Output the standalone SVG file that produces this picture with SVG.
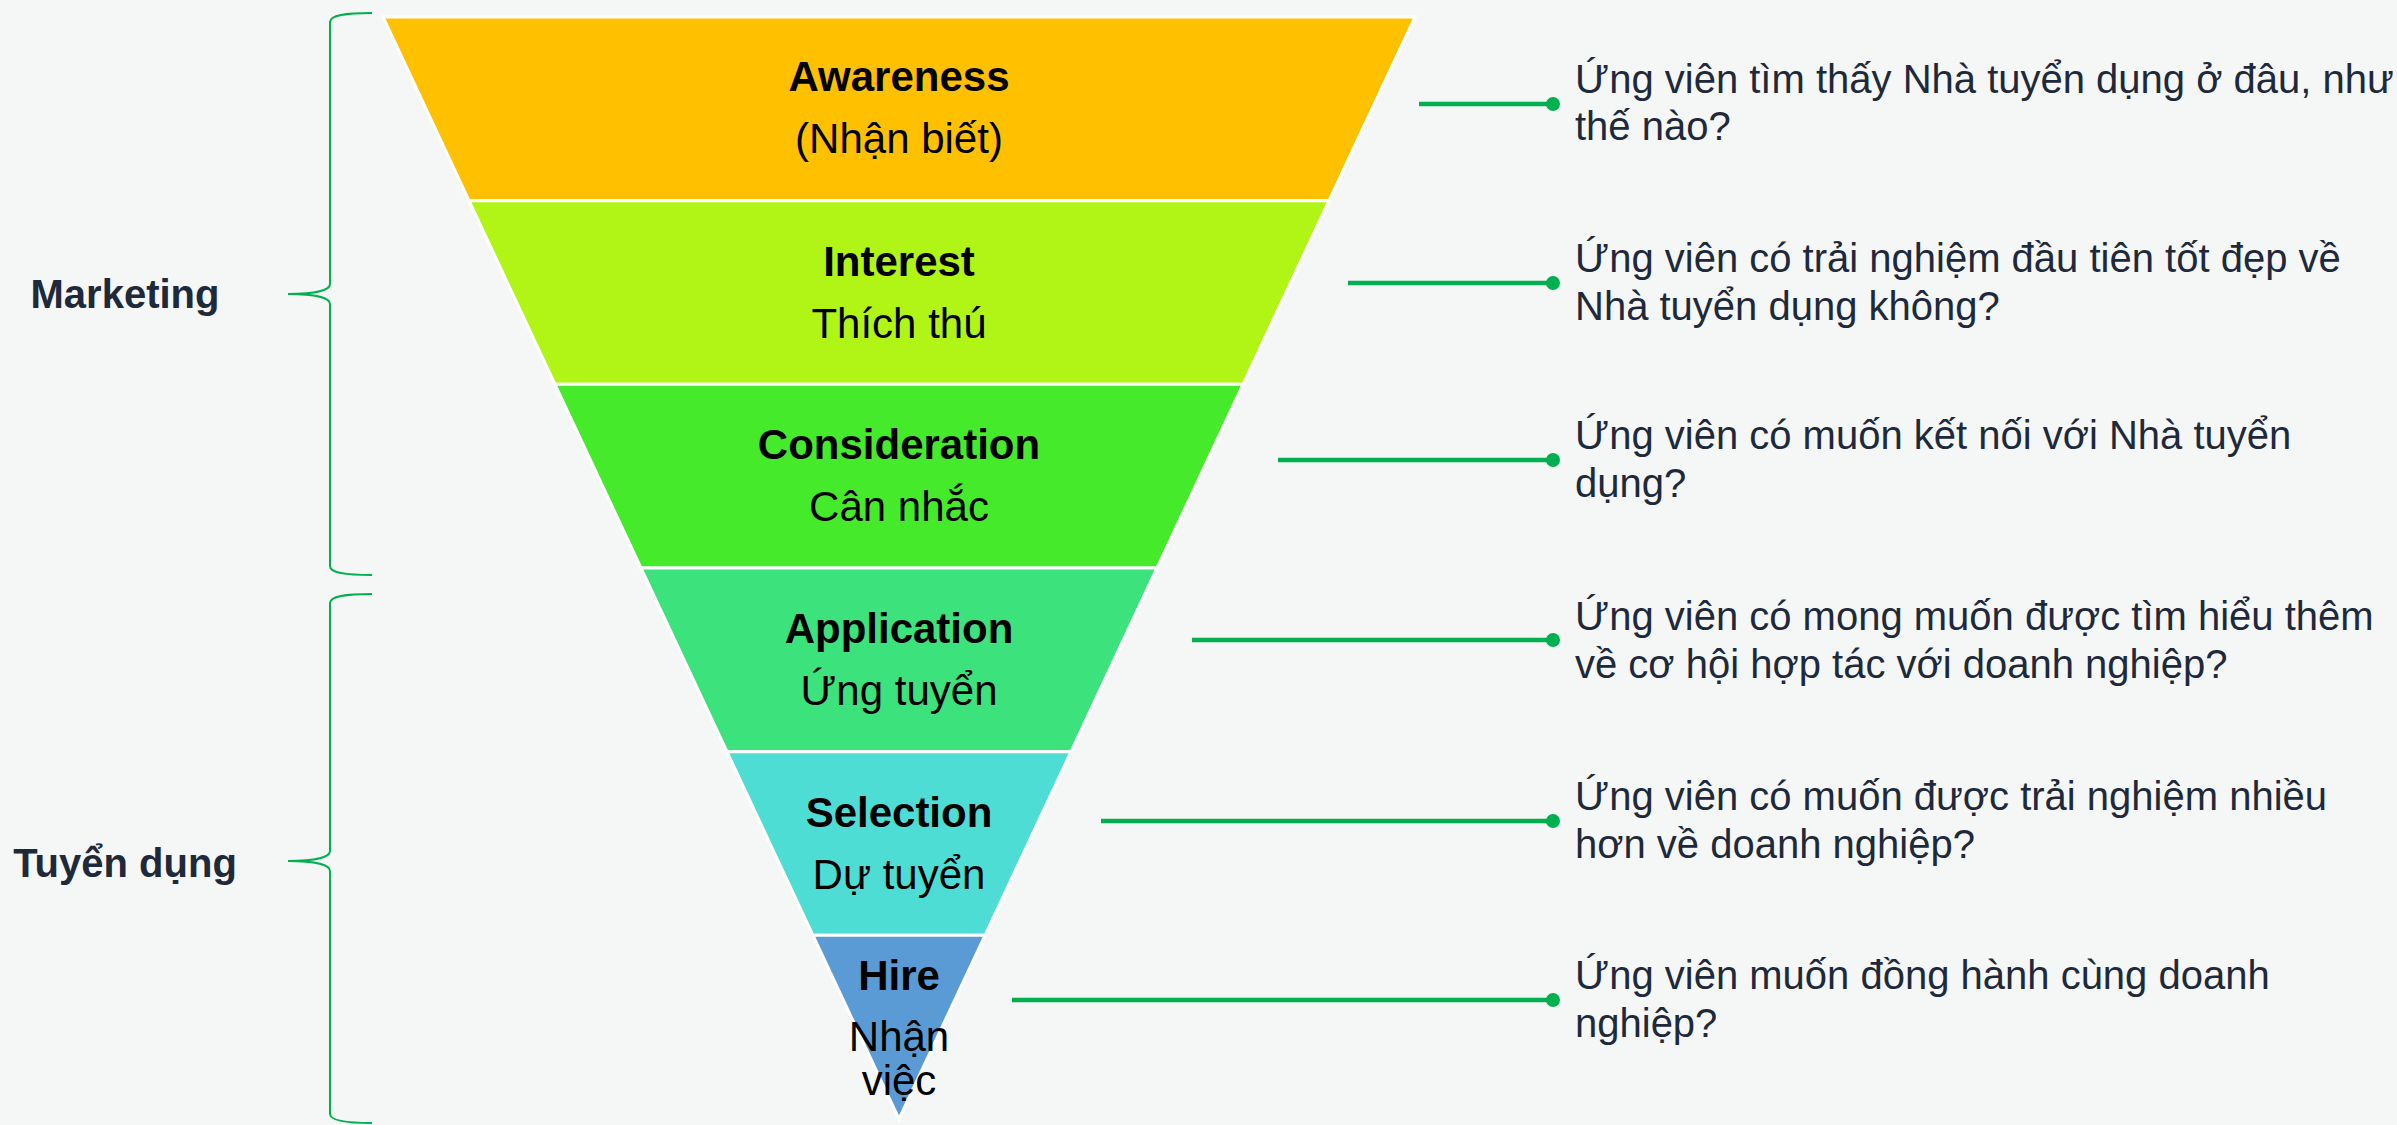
<svg xmlns="http://www.w3.org/2000/svg" width="2397" height="1125" viewBox="0 0 2397 1125">
<style>
.band{stroke:#ffffff;stroke-width:3;stroke-linejoin:miter}
.t{font-family:"Liberation Sans",Arial,sans-serif;font-size:42px;fill:#000;text-anchor:middle}
.b{font-weight:bold}
.q{font-family:"Liberation Sans",Arial,sans-serif;font-size:40px;fill:#1E293B}
.lab{font-family:"Liberation Sans",Arial,sans-serif;font-size:40px;font-weight:bold;fill:#1E293B;text-anchor:middle}
.con{stroke:#00B050;stroke-width:4.5;fill:none}
.dot{fill:#00B050}
.brace{stroke:#00B050;stroke-width:2;fill:none}
</style>
<rect x="0" y="0" width="2397" height="1125" fill="#F5F7F6"/>
<g id="braces">
<path class="brace" d="M372,13 C345,13 330,15 330,22 L330,284 C330,290 316,294 288,294 C316,294 330,298 330,304 L330,566 C330,573 345,575 372,575"/>
<path class="brace" d="M372,594 C345,594 330,596 330,603 L330,851 C330,857 316,861 288,861 C316,861 330,865 330,871 L330,1114 C330,1120 345,1123 372,1123"/>
</g>
<g id="label-marketing"><text class="lab" x="125" y="308">Marketing</text></g>
<g id="label-tuyen-dung"><text class="lab" x="125" y="877">Tuyển dụng</text></g>
<g id="awareness">
<polygon class="band" fill="#FFC000" points="383,17 1415,17 1329,200.7 469,200.7"/>
<text class="t b" x="899" y="91">Awareness</text>
<text class="t" x="899" y="153">(Nhận biết)</text>
</g>
<g id="interest">
<polygon class="band" fill="#B1F516" points="469,200.7 1329,200.7 1243,384.3 555,384.3"/>
<text class="t b" x="899" y="276">Interest</text>
<text class="t" x="899" y="338">Thích thú</text>
</g>
<g id="consideration">
<polygon class="band" fill="#45EB2B" points="555,384.3 1243,384.3 1157,568 641,568"/>
<text class="t b" x="899" y="459">Consideration</text>
<text class="t" x="899" y="521">Cân nhắc</text>
</g>
<g id="application">
<polygon class="band" fill="#3CE37C" points="641,568 1157,568 1071,751.7 727,751.7"/>
<text class="t b" x="899" y="643">Application</text>
<text class="t" x="899" y="705">Ứng tuyển</text>
</g>
<g id="selection">
<polygon class="band" fill="#4DDDD4" points="727,751.7 1071,751.7 985,935.3 813,935.3"/>
<text class="t b" x="899" y="827">Selection</text>
<text class="t" x="899" y="889">Dự tuyển</text>
</g>
<g id="hire">
<polygon class="band" fill="#5B9BD5" points="813,935.3 985,935.3 899,1119"/>
<text class="t b" x="899" y="990">Hire</text>
<text class="t" x="899" y="1051">Nhận</text>
<text class="t" x="899" y="1095">việc</text>
</g>
<g id="connectors">
<line class="con" x1="1419" y1="104" x2="1553" y2="104"/><circle class="dot" cx="1553" cy="104" r="7"/>
<line class="con" x1="1348" y1="283" x2="1553" y2="283"/><circle class="dot" cx="1553" cy="283" r="7"/>
<line class="con" x1="1278" y1="460" x2="1553" y2="460"/><circle class="dot" cx="1553" cy="460" r="7"/>
<line class="con" x1="1192" y1="640" x2="1553" y2="640"/><circle class="dot" cx="1553" cy="640" r="7"/>
<line class="con" x1="1101" y1="821" x2="1553" y2="821"/><circle class="dot" cx="1553" cy="821" r="7"/>
<line class="con" x1="1012" y1="1000" x2="1553" y2="1000"/><circle class="dot" cx="1553" cy="1000" r="7"/>
</g>
<g id="q1"><text class="q" x="1575" y="93">Ứng viên tìm thấy Nhà tuyển dụng ở đâu, như</text><text class="q" x="1575" y="140">thế nào?</text></g>
<g id="q2"><text class="q" x="1575" y="272">Ứng viên có trải nghiệm đầu tiên tốt đẹp về</text><text class="q" x="1575" y="320">Nhà tuyển dụng không?</text></g>
<g id="q3"><text class="q" x="1575" y="449">Ứng viên có muốn kết nối với Nhà tuyển</text><text class="q" x="1575" y="497">dụng?</text></g>
<g id="q4"><text class="q" x="1575" y="630">Ứng viên có mong muốn được tìm hiểu thêm</text><text class="q" x="1575" y="678">về cơ hội hợp tác với doanh nghiệp?</text></g>
<g id="q5"><text class="q" x="1575" y="810">Ứng viên có muốn được trải nghiệm nhiều</text><text class="q" x="1575" y="858">hơn về doanh nghiệp?</text></g>
<g id="q6"><text class="q" x="1575" y="989">Ứng viên muốn đồng hành cùng doanh</text><text class="q" x="1575" y="1037">nghiệp?</text></g>
</svg>
